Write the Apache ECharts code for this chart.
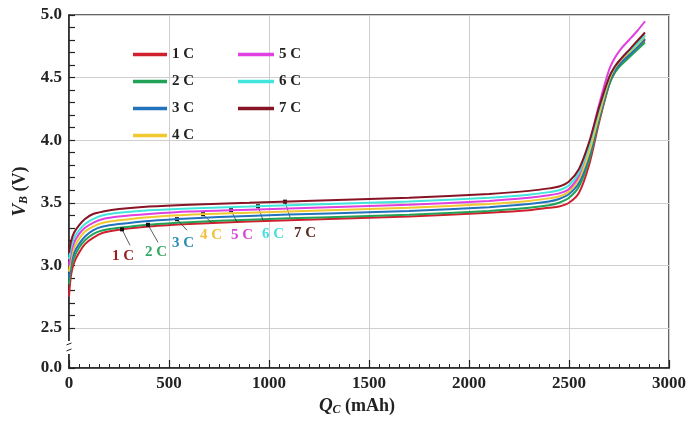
<!DOCTYPE html>
<html><head><meta charset="utf-8">
<script src="https://cdn.jsdelivr.net/npm/echarts@6/dist/echarts.min.js"></script>
<style>html,body{margin:0;padding:0;background:#fff}#c{width:689px;height:423px}</style>
</head><body><div id="c"></div>
<script>
const seriesNames = ['1 C', '2 C', '3 C', '4 C', '5 C', '6 C', '7 C'];
const seriesColors = ['#d0202e', '#22a256', '#2272bc', '#f0c830', '#e040e0', '#40e6dc', '#861424'];
const labelColors = ['#9a2020', '#38a868', '#2a8cb4', '#f0c040', '#d848d8', '#48dede', '#5a2a22'];
const capacity = [0, 10, 25, 50, 80, 120, 170, 250, 400, 600, 900, 1300, 1700, 2100, 2300, 2400, 2450, 2500, 2550, 2600, 2650, 2700, 2730, 2760, 2800, 2840, 2880];
const v1C = [2.75, 2.92, 3.02, 3.10, 3.17, 3.22, 3.26, 3.285, 3.31, 3.33, 3.35, 3.37, 3.39, 3.42, 3.44, 3.46, 3.47, 3.50, 3.58, 3.80, 4.14, 4.44, 4.55, 4.62, 4.68, 4.74, 4.80];
const v2C = [2.85, 2.98, 3.06, 3.14, 3.20, 3.25, 3.28, 3.30, 3.325, 3.345, 3.365, 3.385, 3.405, 3.435, 3.46, 3.48, 3.50, 3.54, 3.63, 3.84, 4.16, 4.44, 4.54, 4.60, 4.66, 4.72, 4.78];
const v3C = [2.90, 3.02, 3.10, 3.17, 3.23, 3.28, 3.31, 3.33, 3.355, 3.375, 3.395, 3.415, 3.435, 3.465, 3.49, 3.51, 3.53, 3.57, 3.66, 3.87, 4.18, 4.46, 4.56, 4.62, 4.68, 4.74, 4.81];
const v4C = [2.95, 3.06, 3.14, 3.21, 3.27, 3.31, 3.34, 3.36, 3.385, 3.405, 3.42, 3.44, 3.46, 3.49, 3.515, 3.535, 3.55, 3.59, 3.69, 3.90, 4.20, 4.48, 4.58, 4.64, 4.70, 4.76, 4.83];
const v5C = [3.00, 3.10, 3.18, 3.25, 3.30, 3.34, 3.37, 3.39, 3.41, 3.43, 3.445, 3.465, 3.485, 3.515, 3.54, 3.56, 3.575, 3.61, 3.72, 3.96, 4.28, 4.56, 4.66, 4.73, 4.80, 4.87, 4.95];
const v6C = [3.05, 3.14, 3.22, 3.28, 3.33, 3.37, 3.40, 3.42, 3.44, 3.455, 3.47, 3.49, 3.51, 3.54, 3.565, 3.585, 3.60, 3.64, 3.74, 3.95, 4.24, 4.50, 4.59, 4.65, 4.71, 4.77, 4.84];
const v7C = [3.10, 3.19, 3.26, 3.32, 3.37, 3.41, 3.43, 3.45, 3.47, 3.485, 3.50, 3.52, 3.54, 3.57, 3.595, 3.615, 3.63, 3.67, 3.77, 3.98, 4.26, 4.50, 4.59, 4.65, 4.72, 4.79, 4.86];
const voltages = [v1C, v2C, v3C, v4C, v5C, v6C, v7C];

const yMin = 2.18, yMax = 5.0;
const yMajorTicks = [2.18, 2.5, 3.0, 3.5, 4.0, 4.5, 5.0];
const yTickLabels = ['0.0', '2.5', '3.0', '3.5', '4.0', '4.5', '5.0'];
const yMinorTicks = [2.6, 2.7, 2.8, 2.9, 3.1, 3.2, 3.3, 3.4, 3.6, 3.7, 3.8, 3.9, 4.1, 4.2, 4.3, 4.4, 4.6, 4.7, 4.8, 4.9];

const annotQ = [265, 395, 540, 670, 810, 945, 1080];
const leaderEndQ = [305, 445, 590, 715, 840, 970, 1105];
const leaderEndV = [3.16, 3.184, 3.28, 3.336, 3.344, 3.36, 3.384];
const labelQ = [270, 435, 570, 710, 865, 1020, 1180];
const labelV = [3.072, 3.104, 3.176, 3.24, 3.24, 3.248, 3.256];

function interp(xs, ys, x) {
  for (let i = 1; i < xs.length; i++) {
    if (x <= xs[i]) { const t = (x - xs[i-1]) / (xs[i] - xs[i-1]); return ys[i-1] + t * (ys[i] - ys[i-1]); }
  }
  return ys[ys.length - 1];
}

const font = 'Liberation Serif';
const series = seriesNames.map((name, k) => {
  const my = interp(capacity, voltages[k], annotQ[k]);
  return {
    name, type: 'line', showSymbol: false, smooth: 0.3,
    color: seriesColors[k], lineStyle: { width: 2, color: seriesColors[k] },
    data: capacity.map((q, i) => [q, voltages[k][i]]),
    z: 3 + k,
    markLine: {
      silent: true, symbol: 'none', animation: false,
      lineStyle: { color: '#333', width: 0.8, type: 'solid' }, label: { show: false },
      data: [[{ coord: [annotQ[k], my] }, { coord: [leaderEndQ[k], leaderEndV[k]] }]]
    },
    markPoint: {
      silent: true, animation: false,
      data: [
        { coord: [annotQ[k], my], symbol: 'rect', symbolSize: 4, itemStyle: { color: '#111' }, label: { show: false } },
        { coord: [labelQ[k], labelV[k]], symbol: 'rect', symbolSize: 1, itemStyle: { color: 'rgba(0,0,0,0)' },
          label: { show: true, position: 'inside', formatter: name, color: labelColors[k], fontFamily: font, fontWeight: 'bold', fontSize: 15 } }
      ]
    }
  };
});

const chart = echarts.init(document.getElementById('c'));
const legendText = { fontFamily: font, fontWeight: 'bold', fontSize: 15, color: '#222' };
const nameRich = {
  i: { fontFamily: font, fontStyle: 'italic', fontWeight: 'bold', fontSize: 19, color: '#222' },
  s: { fontFamily: font, fontStyle: 'italic', fontWeight: 'bold', fontSize: 12, color: '#222', padding: [8, 0, 0, 0] },
  n: { fontFamily: font, fontWeight: 'bold', fontSize: 18, color: '#222' }
};
chart.setOption({
  animation: false,
  backgroundColor: '#fff',
  grid: { left: 69, right: 20, top: 15, bottom: 55, show: true, borderColor: '#333', borderWidth: 1.5, backgroundColor: 'transparent' },
  legend: [
    { data: seriesNames.slice(0, 4), orient: 'vertical', left: 128, top: 42, icon: 'rect', itemWidth: 34, itemHeight: 3.5, itemGap: 12, textStyle: legendText },
    { data: seriesNames.slice(4), orient: 'vertical', left: 233, top: 42, icon: 'rect', itemWidth: 36, itemHeight: 3.5, itemGap: 12, textStyle: legendText }
  ],
  xAxis: {
    type: 'value', min: 0, max: 3000, interval: 500,
    name: '{i|Q}{s|C}{n| (mAh)}', nameLocation: 'middle', nameGap: 28,
    nameTextStyle: { rich: nameRich, padding: [0, 24, 0, 0] },
    axisLine: { lineStyle: { color: '#222', width: 1.5 } },
    axisTick: { inside: true, length: 8, lineStyle: { color: '#222', width: 1.2 } },
    minorTick: { show: true, splitNumber: 10, length: 4, lineStyle: { color: '#222', width: 1 } },
    axisLabel: { fontFamily: font, fontWeight: 'bold', fontSize: 17, color: '#222', margin: 7, formatter: v => String(v) },
    splitLine: { show: true, lineStyle: { color: '#cfcfcf', width: 1 } }
  },
  yAxis: [
    {
      type: 'value', min: yMin, max: yMax,
      name: '{i|V}{s|B}{n| (V)}', nameLocation: 'middle', nameGap: 38, nameRotate: 90,
      nameTextStyle: { rich: nameRich },
      axisLine: { show: true, lineStyle: { color: '#222', width: 1.5 } },
      axisTick: { show: true, inside: true, length: 6, customValues: yMajorTicks.concat(yMinorTicks), lineStyle: { color: '#222', width: 1.2 } },
      axisLabel: { customValues: yMajorTicks, fontFamily: font, fontWeight: 'bold', fontSize: 17, color: '#222', margin: 7,
        formatter: v => yTickLabels[yMajorTicks.findIndex(t => Math.abs(t - v) < 1e-6)] },
      splitLine: { show: false }
    },
    {
      type: 'value', min: yMin, max: yMax, position: 'left',
      axisLine: { show: false },
      axisTick: { show: false, customValues: yMajorTicks },
      axisLabel: { show: false },
      splitLine: { show: true, lineStyle: { color: '#cfcfcf', width: 1 } }
    }
  ],
  series
});

const p = chart.convertToPixel({ gridIndex: 0 }, [0, 2.34]);
chart.setOption({ graphic: [
  { type: 'rect', shape: { x: p[0] - 3, y: p[1] - 7, width: 6, height: 13 }, style: { fill: '#fff' }, z: 100 },
  { type: 'line', shape: { x1: p[0] - 2.5, y1: p[1] - 3, x2: p[0] + 2.5, y2: p[1] - 5 }, style: { stroke: '#222', lineWidth: 1 }, z: 101 },
  { type: 'line', shape: { x1: p[0] - 2.5, y1: p[1] + 3, x2: p[0] + 2.5, y2: p[1] + 1 }, style: { stroke: '#222', lineWidth: 1 }, z: 101 }
] });
</script></body></html>
